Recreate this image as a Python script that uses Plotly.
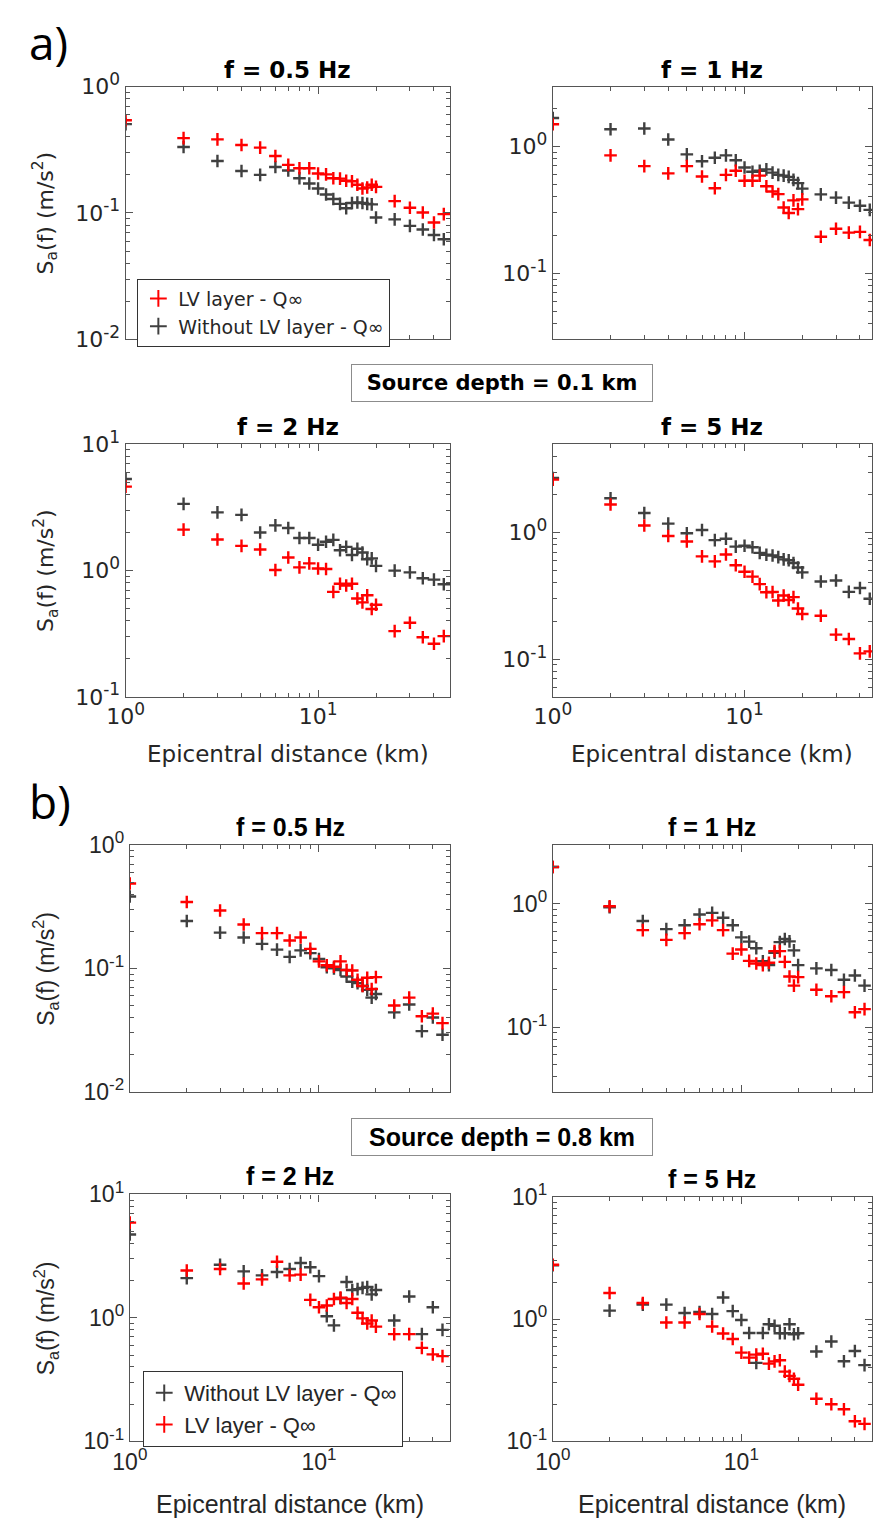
import math
import plotly.graph_objects as go

# Epicentral distances (km)
distance = [1, 2, 3, 4, 5, 6, 7, 8, 9, 10, 11, 12, 13, 14, 15, 16, 17, 18, 19, 20, 25, 30, 35, 40, 45]

# a) Source depth = 0.1 km  -- Sa(f) in m/s^2
a_05_lv = [0.542, 0.391, 0.382, 0.345, 0.329, 0.282, 0.240, 0.226, 0.226, 0.205, 0.202, 0.188, 0.187,
           0.180, 0.178, 0.167, 0.156, 0.159, 0.167, 0.161, 0.124, 0.110, 0.101, 0.084, 0.098]
a_05_ref = [0.505, 0.333, 0.258, 0.215, 0.200, 0.231, 0.217, 0.188, 0.171, 0.156, 0.140, 0.129, 0.118,
            0.109, 0.120, 0.121, 0.120, 0.118, 0.117, 0.092, 0.089, 0.079, 0.074, 0.067, 0.062]
a_1_lv = [1.49, 0.848, 0.698, 0.612, 0.698, 0.578, 0.467, 0.595, 0.642, 0.535, 0.535, 0.588, 0.484,
          0.440, 0.420, 0.330, 0.298, 0.375, 0.320, 0.382, 0.194, 0.224, 0.209, 0.212, 0.183]
a_1_ref = [1.67, 1.36, 1.38, 1.13, 0.863, 0.762, 0.813, 0.848, 0.776, 0.681, 0.631, 0.642, 0.658,
           0.620, 0.595, 0.588, 0.574, 0.544, 0.513, 0.464, 0.418, 0.394, 0.360, 0.340, 0.316]
a_2_lv = [4.62, 2.11, 1.76, 1.57, 1.47, 1.01, 1.27, 1.06, 1.14, 1.04, 1.03, 0.678, 0.786,
          0.763, 0.786, 0.601, 0.560, 0.638, 0.497, 0.537, 0.332, 0.387, 0.297, 0.264, 0.303]
a_2_ref = [5.30, 3.37, 2.89, 2.76, 2.00, 2.28, 2.17, 1.81, 1.81, 1.60, 1.69, 1.75, 1.45,
           1.54, 1.33, 1.49, 1.39, 1.23, 1.25, 1.09, 1.00, 0.968, 0.870, 0.849, 0.78]
a_5_lv = [2.63, 1.67, 1.14, 0.942, 0.852, 0.649, 0.593, 0.672, 0.552, 0.491, 0.449, 0.392, 0.338,
          0.339, 0.291, 0.318, 0.293, 0.309, 0.251, 0.227, 0.220, 0.156, 0.144, 0.111, 0.115]
a_5_ref = [2.71, 1.87, 1.43, 1.18, 0.99, 1.05, 0.873, 0.894, 0.775, 0.789, 0.766, 0.692, 0.668,
           0.660, 0.641, 0.615, 0.605, 0.576, 0.530, 0.485, 0.411, 0.418, 0.340, 0.365, 0.300]

# b) Source depth = 0.8 km
b_05_lv = [0.487, 0.345, 0.294, 0.227, 0.193, 0.193, 0.168, 0.178, 0.144, 0.114, 0.106, 0.103, 0.114,
           0.097, 0.096, 0.081, 0.072, 0.084, 0.068, 0.085, 0.050, 0.058, 0.041, 0.043, 0.036]
b_05_ref = [0.382, 0.242, 0.195, 0.178, 0.158, 0.142, 0.124, 0.140, 0.133, 0.119, 0.102, 0.100, 0.097,
            0.086, 0.078, 0.076, 0.072, 0.067, 0.058, 0.062, 0.044, 0.051, 0.031, 0.040, 0.029]
b_1_lv = [1.98, 0.953, 0.611, 0.509, 0.578, 0.681, 0.733, 0.611, 0.394, 0.426, 0.344, 0.328, 0.318,
          0.332, 0.413, 0.413, 0.338, 0.257, 0.217, 0.254, 0.201, 0.178, 0.192, 0.132, 0.140]
b_1_ref = [1.98, 0.935, 0.724, 0.622, 0.669, 0.818, 0.843, 0.769, 0.669, 0.534, 0.493, 0.436, 0.342,
           0.318, 0.400, 0.488, 0.518, 0.495, 0.419, 0.318, 0.299, 0.290, 0.242, 0.262, 0.217]
b_2_lv = [5.91, 2.42, 2.49, 1.90, 2.05, 2.85, 2.21, 2.24, 1.40, 1.22, 1.26, 1.42, 1.46,
          1.32, 1.42, 1.10, 0.99, 0.90, 0.953, 0.849, 0.738, 0.738, 0.571, 0.506, 0.49]
b_2_ref = [4.73, 2.10, 2.69, 2.38, 2.21, 2.35, 2.49, 2.78, 2.57, 2.18, 1.03, 0.869, 1.44,
           1.95, 1.68, 1.71, 1.75, 1.78, 1.55, 1.68, 0.953, 1.49, 0.738, 1.22, 0.80]
b_5_lv = [2.78, 1.63, 1.35, 0.935, 0.935, 1.10, 0.869, 0.762, 0.687, 0.531, 0.483, 0.511, 0.520,
          0.432, 0.45, 0.46, 0.371, 0.343, 0.325, 0.290, 0.223, 0.201, 0.183, 0.146, 0.139]
b_5_ref = [2.75, 1.17, 1.31, 1.31, 1.12, 1.14, 1.10, 1.50, 1.16, 0.98, 0.768, 0.438, 0.768,
           0.906, 0.88, 0.765, 0.765, 0.906, 0.75, 0.765, 0.543, 0.654, 0.452, 0.547, 0.420]

freq_titles = ["f = 0.5 Hz", "f = 1 Hz", "f = 2 Hz", "f = 5 Hz"]
depth_labels = ["Source depth = 0.1 km", "Source depth = 0.8 km"]
name_lv = "LV layer - Q\u221e"
name_ref = "Without LV layer - Q\u221e"
x_title = "Epicentral distance (km)"
y_title = "S<sub>a</sub>(f) (m/s<sup>2</sup>)"

RED = "#ff0000"
GRAY = "#404040"
AXIS = "#555555"
W, H = 873, 1533
FONT_A = "DejaVu Sans"
FONT_B = "Liberation Sans"

# text sizes for the two sections
SIZES = {
    FONT_A: dict(tick=22, sup=17, title=23, ytitle=22, xtitle=23, legend=19, depth=21),
    FONT_B: dict(tick=23, sup=17, title=25, ytitle=23, xtitle=25, legend=22, depth=25),
}


def px(x):
    return x / W


def py(y):
    return 1 - y / H


# panel layout: (lv, ref, title, x0, x1, y0, y1, xrange_hi, yrange, bottom row, font, legend)
panels = [
    (a_05_lv, a_05_ref, freq_titles[0], 109, 440.7, 70, 328, 1.686, (-2, 0), False, FONT_A, "legend"),
    (a_1_lv, a_1_ref, freq_titles[1], 545.7, 872, 70, 328, 1.665, (-1.52, 0.47), False, FONT_A, None),
    (a_2_lv, a_2_ref, freq_titles[2], 109, 440.7, 435, 693, 1.686, (-1, 1), True, FONT_A, None),
    (a_5_lv, a_5_ref, freq_titles[3], 545.7, 872, 435, 693, 1.665, (-1.3, 0.7), True, FONT_A, None),
    (b_05_lv, b_05_ref, freq_titles[0], 113.3, 441, 844, 1096, 1.695, (-2, 0), False, FONT_B, None),
    (b_1_lv, b_1_ref, freq_titles[1], 545.7, 872, 844, 1096, 1.693, (-1.524, 0.476), False, FONT_B, None),
    (b_2_lv, b_2_ref, freq_titles[2], 113.3, 441, 1200.7, 1452.7, 1.695, (-1, 1), True, FONT_B, "legend2"),
    (b_5_lv, b_5_ref, freq_titles[3], 545.7, 872, 1203, 1452.7, 1.693, (-1, 1), True, FONT_B, None),
]


def y_major(lo, hi):
    return [10.0 ** n for n in range(math.ceil(lo - 1e-9), math.floor(hi + 1e-9) + 1)]


def y_minor(lo, hi):
    vals = []
    for n in range(math.floor(lo) - 1, math.ceil(hi) + 1):
        for k in range(2, 10):
            v = k * 10.0 ** n
            if lo <= math.log10(v) <= hi:
                vals.append(v)
    return vals


def sup_label(v, sup_size):
    return "10<sup><span style='font-size:%dpx'>%d</span></sup>" % (sup_size, round(math.log10(v)))


fig = go.Figure()
annotations = []

for i, (lv, ref, title, x0, x1, y0, y1, xhi, yr, bottom, font, leg) in enumerate(panels):
    k = "" if i == 0 else str(i + 1)
    xa, ya = "x" + k, "y" + k
    sz = SIZES[font]
    marker_lv = dict(symbol="cross-thin", size=9, color=RED, line=dict(color=RED, width=2.4))
    marker_ref = dict(symbol="cross-thin", size=9, color=GRAY, line=dict(color=GRAY, width=2.4))
    # legend a lists the LV layer first, legend b lists the reference model first
    rank_lv, rank_ref = (1, 2) if leg == "legend" else (2, 1)
    fig.add_trace(go.Scatter(x=distance, y=ref, mode="markers", marker=marker_ref, name=name_ref,
                             xaxis=xa, yaxis=ya, showlegend=leg is not None,
                             legend=leg or "legend", legendrank=rank_ref))
    fig.add_trace(go.Scatter(x=distance, y=lv, mode="markers", marker=marker_lv, name=name_lv,
                             xaxis=xa, yaxis=ya, showlegend=leg is not None,
                             legend=leg or "legend", legendrank=rank_lv))

    fig.layout["xaxis" + k] = dict(
        type="log", range=[0, xhi], domain=[px(x0), px(x1)], anchor=ya,
        showline=True, linecolor=AXIS, linewidth=1.2, mirror="ticks",
        ticks="inside", ticklen=7, tickwidth=1, tickcolor=AXIS,
        tickmode="array", tickvals=[1, 10],
        ticktext=[sup_label(1, sz["sup"]), sup_label(10, sz["sup"])],
        showticklabels=bottom, showgrid=False, zeroline=False,
        tickfont=dict(family=font, size=sz["tick"], color="#262626"),
        minor=dict(ticks="inside", ticklen=4, tickcolor=AXIS, tickmode="array",
                   tickvals=[2, 3, 4, 5, 6, 7, 8, 9, 20, 30, 40], showgrid=False),
    )
    majors = y_major(*yr)
    fig.layout["yaxis" + k] = dict(
        type="log", range=list(yr), domain=[py(y1), py(y0)], anchor=xa,
        showline=True, linecolor=AXIS, linewidth=1.2, mirror="ticks",
        ticks="inside", ticklen=7, tickwidth=1, tickcolor=AXIS,
        tickmode="array", tickvals=majors, ticktext=[sup_label(v, sz["sup"]) for v in majors],
        showgrid=False, zeroline=False,
        tickfont=dict(family=font, size=sz["tick"], color="#262626"),
        minor=dict(ticks="inside", ticklen=4, tickcolor=AXIS, tickmode="array",
                   tickvals=y_minor(*yr), showgrid=False),
    )

    # panel title
    annotations.append(dict(
        text="<b>%s</b>" % title, xref="paper", yref="paper",
        x=px((x0 + x1) / 2), y=py(y0 - 2), xanchor="center", yanchor="bottom",
        showarrow=False, font=dict(family=font, size=sz["title"], color="black"),
    ))
    # y-axis title on the left column
    if x0 < 200:
        annotations.append(dict(
            text=y_title, xref="paper", yref="paper", textangle=-90,
            x=px(27), y=py((y0 + y1) / 2), xanchor="center", yanchor="middle",
            showarrow=False, font=dict(family=font, size=sz["ytitle"], color="#262626"),
        ))
    # x-axis title on the bottom rows
    if bottom:
        annotations.append(dict(
            text=x_title, xref="paper", yref="paper",
            x=px((x0 + x1) / 2), y=py(y1 + (58 if font == FONT_A else 64)),
            xanchor="center", yanchor="middle",
            showarrow=False, font=dict(family=font, size=sz["xtitle"], color="#262626"),
        ))

# source depth boxes
for label, yc, font in [(depth_labels[0], 373, FONT_A), (depth_labels[1], 1142, FONT_B)]:
    annotations.append(dict(
        text="<b>%s</b>" % label, xref="paper", yref="paper",
        x=px(494), y=py(yc), xanchor="center", yanchor="middle", showarrow=False,
        width=296, height=32, borderpad=2, bordercolor="#8c8c8c", borderwidth=1,
        bgcolor="white", font=dict(family=font, size=SIZES[font]["depth"], color="black"),
    ))

# section labels
for label, yc in [("a)", 25), ("b)", 799)]:
    annotations.append(dict(
        text=label, xref="paper", yref="paper", x=px(8), y=py(yc),
        xanchor="left", yanchor="middle", showarrow=False,
        font=dict(family="Open Sans", size=46, color="black"),
    ))

fig.update_layout(
    width=W, height=H, margin=dict(l=0, r=0, t=0, b=0),
    paper_bgcolor="white", plot_bgcolor="white",
    annotations=annotations,
    legend=dict(x=px(121), y=py(266), xanchor="left", yanchor="top",
                bgcolor="white", bordercolor="#333333", borderwidth=1,
                font=dict(family=FONT_A, size=SIZES[FONT_A]["legend"], color="#262626"),
                tracegroupgap=0, itemsizing="constant"),
    legend2=dict(x=px(127), y=py(1381), xanchor="left", yanchor="top",
                 bgcolor="white", bordercolor="#333333", borderwidth=1,
                 font=dict(family=FONT_B, size=SIZES[FONT_B]["legend"], color="#262626"),
                 tracegroupgap=0, itemsizing="constant"),
)

fig.write_html("out.html")
